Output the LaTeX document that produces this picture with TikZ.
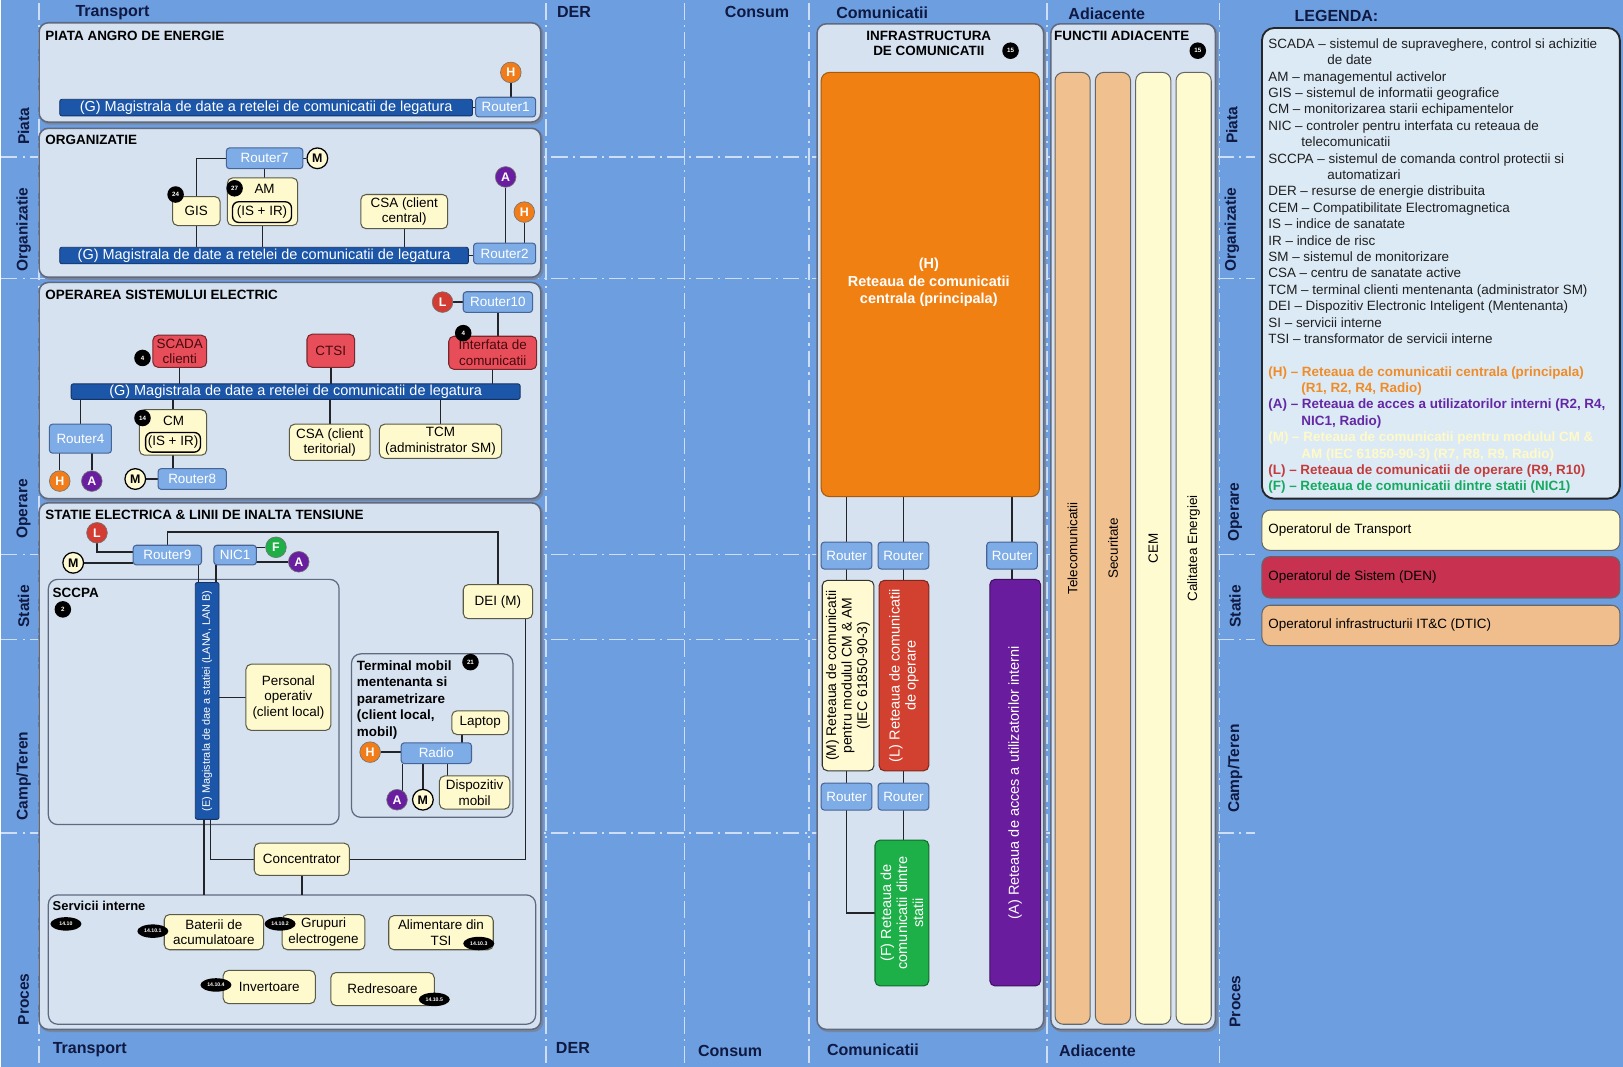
\documentclass[tikz,border=0pt]{standalone}
\usepackage{fontspec}
\setmainfont{Liberation Sans}
\usetikzlibrary{calc,shapes.geometric}
\pgfdeclarelayer{bg}\pgfdeclarelayer{panels}\pgfdeclarelayer{lines}
\pgfsetlayers{bg,panels,lines,main}
\definecolor{bgblue}{RGB}{108,158,224}
\definecolor{guidec}{RGB}{205,222,246}
\definecolor{hdrc}{RGB}{15,25,65}
\definecolor{pfill}{RGB}{214,226,240}
\definecolor{pdraw}{RGB}{95,105,128}
\definecolor{pshadow}{RGB}{120,135,160}
\definecolor{busblue}{RGB}{28,86,168}
\definecolor{busdraw}{RGB}{20,50,100}
\definecolor{rtfill}{RGB}{126,172,230}
\definecolor{rtdraw}{RGB}{70,100,150}
\definecolor{yfill}{RGB}{255,250,205}
\definecolor{ydraw}{RGB}{90,90,70}
\definecolor{redfill}{RGB}{232,78,90}
\definecolor{reddraw}{RGB}{120,40,45}
\definecolor{redtext}{RGB}{70,10,15}
\definecolor{colH}{RGB}{240,125,25}
\definecolor{colA}{RGB}{105,30,160}
\definecolor{colL}{RGB}{210,60,50}
\definecolor{colF}{RGB}{30,175,70}
\definecolor{colM}{RGB}{255,250,210}
\definecolor{orfill}{RGB}{240,128,18}
\definecolor{lfill}{RGB}{210,65,48}
\definecolor{purfill}{RGB}{105,28,158}
\definecolor{grfill}{RGB}{30,176,72}
\definecolor{peach}{RGB}{240,192,142}
\definecolor{pale}{RGB}{255,251,208}
\definecolor{legfill}{RGB}{220,234,246}
\definecolor{opred}{RGB}{200,50,80}
\definecolor{oppeach}{RGB}{240,190,140}
\definecolor{legH}{RGB}{240,140,40}
\definecolor{legA}{RGB}{100,40,165}
\definecolor{legM}{RGB}{255,250,200}
\definecolor{legL}{RGB}{195,60,60}
\definecolor{legF}{RGB}{20,170,95}
\definecolor{linec}{RGB}{35,35,42}
\newcommand\myfs[2]{\fontsize{#1}{#2}\selectfont}
\newcommand\BX[7]{\node[#2,minimum width={#5-#3},minimum height={#6-#4},inner sep=0pt,outer sep=0pt] (#1) at ({(#3+#5)/2},{(#4+#6)/2}) {#7};}
\tikzset{
 hdr/.style={font=\bfseries\myfs{15.5}{17}, text=hdrc, inner sep=0pt},
 rowl/.style={font=\bfseries\myfs{15}{17}, text=hdrc, rotate=90, inner sep=0pt},
 guide/.style={draw=guidec, line width=1.5pt, dash pattern=on 16pt off 5pt on 2pt off 5pt},
 panel/.style={draw=pdraw, fill=pfill, rounded corners=9pt, line width=1.5pt,
   preaction={draw=pshadow, line width=2pt, transform canvas={xshift=1.5pt,yshift=-1.5pt}}},
 subpanel/.style={draw=pdraw, fill=pfill, rounded corners=9pt, line width=1.2pt},
 legbox/.style={draw=black!85, fill=legfill, rounded corners=12pt, line width=1.8pt},
 ptitle/.style={font=\bfseries\myfs{13}{15}, inner sep=0pt, anchor=west, text=black},
 bus/.style={fill=busblue, draw=busdraw, line width=0.8pt, text=white, rounded corners=2pt, font=\myfs{14}{16}},
 rt/.style={fill=rtfill, draw=rtdraw, line width=1pt, text=white, rounded corners=3pt, font=\myfs{13}{15}},
 yb/.style={fill=yfill, draw=ydraw, line width=1pt, rounded corners=5pt, align=center, font=\myfs{13}{15}},
 rb/.style={fill=redfill, draw=reddraw, line width=1pt, rounded corners=5pt, align=center, font=\myfs{13}{15}, text=redtext},
 inbox/.style={fill=yfill, draw=black, line width=1.3pt, rounded corners=6pt, font=\myfs{13}{15}},
 circ/.style={circle, minimum size=20pt, inner sep=0pt, font=\bfseries\myfs{12}{12}, text=white, draw=black!55, line width=0.6pt},
 cirH/.style={circ, fill=colH},
 cirA/.style={circ, fill=colA},
 cirL/.style={circ, fill=colL},
 cirF/.style={circ, fill=colF},
 cirM/.style={circ, fill=colM, text=black, draw=black, line width=1.2pt},
 badge/.style={circle, fill=black, minimum size=16pt, inner sep=0pt, text=white, font=\bfseries\myfs{6}{6}},
 ebadge/.style={ellipse, fill=black, minimum width=30pt, minimum height=13pt, inner sep=0pt, text=white, font=\bfseries\myfs{5}{5}},
 conn/.style={draw=linec, line width=1.4pt},
 bigbox/.style={rounded corners=8pt, draw=black!60, line width=1pt},
 rtxt/.style={rotate=90, align=center, inner sep=0pt},
 opbox/.style={draw=black!60, line width=1pt, rounded corners=8pt}
}
\begin{document}
\begin{tikzpicture}[x=1pt,y=-1pt]
\begin{pgfonlayer}{bg}
\fill[bgblue] (0,0) rectangle (1568,1031);
\foreach \x in {37,527,661,781,1011,1178} \draw[guide] (\x,3) -- (\x,1029);
\foreach \y in {152,269,536,618,805} \draw[guide] (0,\y) -- (1212,\y);
\end{pgfonlayer}
\useasboundingbox (0,0) rectangle (1568,1031);

% column headers
\node[hdr] (hTt) at (108,12) {Transport};
\node[hdr] (hDt) at (554,12) {DER};
\node[hdr] (hCt) at (731,12) {Consum};
\node[hdr] (hMt) at (852,12) {Comunicatii};
\node[hdr] (hAt) at (1069,13) {Adiacente};
\node[hdr] (hLg) at (1291,15) {LEGENDA:};
\node[hdr] (hTb) at (86,1015) {Transport};
\node[hdr] (hDb) at (553,1013) {DER};
\node[hdr] (hCb) at (705,1016) {Consum};
\node[hdr] (hMb) at (843,1015) {Comunicatii};
\node[hdr] (hAb) at (1060,1016) {Adiacente};
% row labels
\node[rowl] (lr1) at (22,122) {Piata};
\node[rowl] (lr2) at (22,222) {Organizatie};
\node[rowl] (lr3) at (22,492) {Operare};
\node[rowl] (lr4) at (22,586) {Statie};
\node[rowl] (lr5) at (22,750) {Camp/Teren};
\node[rowl] (lr6) at (22,966) {Proces};
\node[rowl] (rr1) at (1190,121) {Piata};
\node[rowl] (rr2) at (1190,222) {Organizatie};
\node[rowl] (rr3) at (1193,495) {Operare};
\node[rowl] (rr4) at (1193,586) {Statie};
\node[rowl] (rr5) at (1193,743) {Camp/Teren};
\node[rowl] (rr6) at (1193,968) {Proces};

\begin{pgfonlayer}{panels}
\BX{P1}{panel}{37}{22}{522}{118}{}
\BX{P2}{panel}{37}{124}{522}{268}{}
\BX{P3}{panel}{37}{273}{522}{482}{}
\BX{P4}{panel}{37}{486}{522}{995}{}
\BX{sccpa}{subpanel}{46}{560}{327}{797}{}
\BX{term}{subpanel}{339}{632}{495}{790}{}
\BX{serv}{subpanel}{46}{865}{517}{990}{}
\BX{infra}{panel}{789}{23}{1008}{995}{}
\BX{adj}{panel}{1015}{23}{1174}{995}{}
\BX{leg}{legbox}{1219}{27}{1565}{482}{}
\end{pgfonlayer}

% ---------- Panel 1
\node[ptitle] (t1) at (43,35) {PIATA ANGRO DE ENERGIE};
\BX{bus1}{bus}{57}{96}{456}{112}{(G) Magistrala de date a retelei de comunicatii de legatura}
\BX{r1}{rt}{459}{94}{517}{113}{Router1}
\node[cirH] (h1) at (493,70) {H};

% ---------- Panel 2
\node[ptitle] (t2) at (43,135) {ORGANIZATIE};
\BX{r7}{rt}{218}{143}{292}{163}{Router7}
\node[cirM] (m7) at (306,153) {M};
\BX{gis}{yb}{166}{190}{212}{218}{GIS}
\node[badge] (b24) at (169,188) {24};
\BX{am}{yb}{219}{172}{287}{218}{}
\node[inner sep=0pt, font=\myfs{13}{15}] (amt) at (255,183) {AM};
\BX{amin}{inbox}{224}{195}{281}{215}{(IS + IR)}
\node[badge] (b27) at (226,182) {27};
\BX{csa1}{yb}{348}{188}{432}{221}{CSA (client\\central)}
\BX{bus2}{bus}{57}{239}{452}{255}{(G) Magistrala de date a retelei de comunicatii de legatura}
\BX{r2}{rt}{457}{235}{517}{255}{Router2}
\node[cirA] (a2) at (488,171) {A};
\node[cirH] (h2) at (506,205) {H};

% ---------- Panel 3
\node[ptitle] (t3) at (43,285) {OPERAREA SISTEMULUI ELECTRIC};
\BX{r10}{rt}{447}{282}{514}{302}{Router10}
\node[cirL] (l10) at (427,292) {L};
\BX{scada}{rb}{147}{324}{199}{355}{SCADA\\clienti}
\node[badge] (b4a) at (137,346) {4};
\BX{ctsi}{rb}{296}{323}{342}{355}{CTSI}
\BX{intf}{rb}{433}{325}{518}{357}{Interfata de\\comunicatii}
\node[badge] (b4b) at (447,322) {4};
\BX{bus3}{bus}{68}{371}{502}{386}{(G) Magistrala de date a retelei de comunicatii de legatura}
\BX{r4}{rt}{47}{410}{107}{438}{Router4}
\node[cirH] (h4) at (57,465) {H};
\node[cirA] (a4) at (88,465) {A};
\BX{cm}{yb}{134}{396}{199}{440}{}
\node[inner sep=0pt, font=\myfs{13}{15}] (cmt) at (167,407) {CM};
\BX{cmin}{inbox}{140}{418}{193}{437}{(IS + IR)}
\node[badge] (b14) at (137,404) {14};
\BX{r8}{rt}{152}{453}{218}{473}{Router8}
\node[cirM] (m8) at (130,463) {M};
\BX{csa2}{yb}{279}{410}{357}{445}{CSA (client\\teritorial)}
\BX{tcm}{yb}{366}{410}{484}{443}{TCM\\(administrator SM)}

% ---------- Panel 4
\node[ptitle] (t4) at (43,498) {STATIE ELECTRICA \& LINII DE INALTA TENSIUNE};
\node[cirL] (l9) at (93,515) {L};
\node[cirM] (m9) at (70,544) {M};
\BX{r9}{rt}{128}{527}{194}{546}{Router9}
\BX{nic1}{rt}{206}{527}{247}{546}{NIC1}
\node[cirF] (f9) at (266,529) {F};
\node[cirA] (a9) at (288,543) {A};
\coordinate (c514) at (0,514);
\BX{dei}{yb}{447}{565}{514}{598}{DEI (M)}
\node[ptitle] (tsc) at (50,573) {SCCPA};
\node[badge] (b2) at (60,589) {2};
\BX{ebus}{bus}{188}{563}{211}{792}{}
\node[rtxt, text=white, font=\myfs{10.5}{12}] (ebt) at (ebus.center) {(E) Magistrala de dae a statiei (LANA, LAN B)};
\BX{pers}{yb}{237}{642}{319}{706}{Personal\\operativ\\(client local)}
\node[ptitle, anchor=north west, align=left, font=\bfseries\myfs{13}{16}] (tterm) at (344,638) {Terminal mobil\\mentenanta si\\parametrizare\\(client local,\\mobil)};
\node[badge] (b21) at (454,640) {21};
\BX{lap}{yb}{436}{687}{491}{710}{Laptop}
\BX{radio}{rt}{387}{718}{455}{738}{Radio}
\node[cirH] (hT) at (357,727) {H};
\BX{disp}{yb}{424}{750}{492}{782}{Dispozitiv\\mobil}
\node[cirA] (aT) at (383,773) {A};
\node[cirM] (mT) at (408,773) {M};
\BX{conc}{yb}{245}{815}{337}{846}{Concentrator}
\node[ptitle, font=\bfseries\myfs{12.5}{14}] (tserv) at (50,876) {Servicii interne};
\node[ebadge] (e0) at (63,893) {14.10};
\BX{bat}{yb}{158}{884}{254}{918}{Baterii de\\acumulatoare}
\node[ebadge] (e1) at (147,900) {14.10.1};
\BX{grp}{yb}{272}{884}{352}{918}{Grupuri\\electrogene}
\node[ebadge] (e2) at (270,893) {14.10.2};
\BX{alim}{yb}{375}{885}{476}{918}{Alimentare din\\TSI}
\node[ebadge] (e3) at (462,912) {14.10.3};
\BX{inv}{yb}{215}{938}{304}{970}{Invertoare}
\node[ebadge] (e4) at (208,952) {14.10.4};
\BX{redr}{yb}{319}{940}{419}{972}{Redresoare}
\node[ebadge] (e5) at (419,966) {14.10.5};

% ---------- Infrastructura
\node[font=\bfseries\myfs{13}{15}, align=center, inner sep=0pt] (tinf) at (897,42) {INFRASTRUCTURA\\DE COMUNICATII};
\node[badge] (b15a) at (976,49) {15};
\BX{hbox}{bigbox, fill=orfill, draw=orfill!70!black}{793}{70}{1004}{480}{}
\node[align=center, text=white, font=\bfseries\myfs{14}{17}, inner sep=0pt] (htx) at (897,273) {(H)\\Reteaua de comunicatii\\centrala (principala)};
\BX{ri1}{rt}{793}{524}{842}{550}{Router}
\BX{ri2}{rt}{848}{524}{897}{550}{Router}
\BX{ri3}{rt}{953}{524}{1002}{550}{Router}
\BX{mbox}{bigbox, rounded corners=5pt, fill=colM, draw=black!80}{794}{561}{844}{745}{}
\node[rtxt, font=\myfs{13.5}{15}] (mtx) at (mbox.center) {(M) Reteaua de comunicatii\\pentru modulul CM \& AM\\(IEC 61850-90-3)};
\BX{lbox}{bigbox, rounded corners=5pt, fill=lfill, draw=lfill!60!black}{849}{561}{897}{745}{}
\node[rtxt, text=white, font=\myfs{14}{15.5}] (ltx) at (lbox.center) {(L) Reteaua de comunicatii\\de operare};
\BX{ri4}{rt}{793}{757}{842}{783}{Router}
\BX{ri5}{rt}{848}{757}{897}{783}{Router}
\BX{fbox}{bigbox, rounded corners=5pt, fill=grfill, draw=grfill!60!black}{845}{812}{897}{953}{}
\node[rtxt, text=white, font=\myfs{14}{15.5}] (ftx) at (fbox.center) {(F) Reteaua de\\comunicatii dintre\\statii};
\BX{abox}{bigbox, rounded corners=5pt, fill=purfill, draw=purfill!60!black}{956}{560}{1005}{953}{}
\node[rtxt, text=white, font=\myfs{14}{15.5}] (atx) at (abox.center) {(A) Reteaua de acces a utilizatorilor interni};

% ---------- Adiacente
\node[ptitle] (tadj) at (1018,35) {FUNCTII ADIACENTE};
\node[badge] (b15b) at (1157,49) {15};
\BX{tel}{bigbox, fill=peach}{1019}{70}{1053}{990}{}
\BX{sec}{bigbox, fill=peach}{1058}{70}{1092}{990}{}
\BX{cem}{bigbox, fill=pale}{1097}{70}{1131}{990}{}
\BX{cal}{bigbox, fill=pale}{1136}{70}{1170}{990}{}
\node[rtxt, font=\myfs{13}{15}] (telt) at (tel.center) {Telecomunicatii};
\node[rtxt, font=\myfs{13}{15}] (sect) at (sec.center) {Securitate};
\node[rtxt, font=\myfs{13}{15}] (cemt) at (cem.center) {CEM};
\node[rtxt, font=\myfs{13}{15}] (calt) at (cal.center) {Calitatea Energiei};

% ---------- Legend
\node[anchor=north west, align=left, inner sep=0pt, font=\myfs{13}{15.85}, text=black!88] (legt) at (1225,37) {%
SCADA – sistemul de supraveghere, control si achizitie\\
\hspace*{57pt}de date\\
AM – managementul activelor\\
GIS – sistemul de informatii geografice\\
CM – monitorizarea starii echipamentelor\\
NIC – controler pentru interfata cu reteaua de\\
\hspace*{32pt}telecomunicatii\\
SCCPA – sistemul de comanda control protectii si\\
\hspace*{57pt}automatizari\\
DER – resurse de energie distribuita\\
CEM – Compatibilitate Electromagnetica\\
IS – indice de sanatate\\
IR – indice de risc\\
SM – sistemul de monitorizare\\
CSA – centru de sanatate active\\
TCM – terminal clienti mentenanta (administrator SM)\\
DEI – Dispozitiv Electronic Inteligent (Mentenanta)\\
SI – servicii interne\\
TSI – transformator de servicii interne\\
\mbox{}\\
{\bfseries\color{legH}(H) – Reteaua de comunicatii centrala (principala)}\\
{\bfseries\color{legH}\hspace*{32pt}(R1, R2, R4, Radio)}\\
{\bfseries\color{legA}(A) – Reteaua de acces a utilizatorilor interni (R2, R4,}\\
{\bfseries\color{legA}\hspace*{32pt}NIC1, Radio)}\\
{\bfseries\color{legM}(M) – Reteaua de comunicatii pentru modulul CM \&}\\
{\bfseries\color{legM}\hspace*{32pt}AM (IEC 61850-90-3) (R7, R8, R9, Radio)}\\
{\bfseries\color{legL}(L) – Reteaua de comunicatii de operare (R9, R10)}\\
{\bfseries\color{legF}(F) – Reteaua de comunicatii dintre statii (NIC1)}};
\BX{op1}{opbox, fill=pale}{1219}{493}{1565}{532}{}
\BX{op2}{opbox, fill=opred}{1219}{538}{1565}{578}{}
\BX{op3}{opbox, fill=oppeach}{1219}{585}{1565}{624}{}
\node[anchor=west, inner sep=0pt, font=\myfs{13}{15}] (op1t) at ([xshift=6pt]op1.west) {Operatorul de Transport};
\node[anchor=west, inner sep=0pt, font=\myfs{13}{15}] (op2t) at ([xshift=6pt]op2.west) {Operatorul de Sistem (DEN)};
\node[anchor=west, inner sep=0pt, font=\myfs{13}{15}] (op3t) at ([xshift=6pt]op3.west) {Operatorul infrastructurii IT\&C (DTIC)};

% ---------- connectors
\begin{pgfonlayer}{lines}
\draw[conn] (bus1.east) -- (bus1.east -| r1.west);
\draw[conn] (h1) -- (h1 |- r1.north);
\draw[conn] (r7.west) -| (gis.north);
\draw[conn] (r7.south) -- (r7.south |- am.north);
\draw[conn] (r7.east) -- (m7);
\draw[conn] (gis.south) -- (gis.south |- bus2.north);
\draw[conn] (am.south) -- (am.south |- bus2.north);
\draw[conn] (csa1.south) -- (csa1.south |- bus2.north);
\draw[conn] (bus2.east) -- (bus2.east -| r2.west);
\draw[conn] (a2) -- (a2 |- r2.north);
\draw[conn] (h2) -- (h2 |- r2.north);
\draw[conn] (l10) -- (l10 -| r10.west);
\draw[conn] (r10.south) -- (r10.south |- intf.north);
\draw[conn] (scada.south) -- (scada.south |- bus3.north);
\draw[conn] (ctsi.south) -- (ctsi.south |- bus3.north);
\draw[conn] (intf.south) -- (intf.south |- bus3.north);
\draw[conn] (r4.north) -- (r4.north |- bus3.south);
\draw[conn] (h4) -- (h4 |- r4.south);
\draw[conn] (a4) -- (a4 |- r4.south);
\draw[conn] (cm.north) -- (cm.north |- bus3.south);
\draw[conn] (cm.south) -- (cm.south |- r8.north);
\draw[conn] (m8) -- (m8 -| r8.west);
\draw[conn] (csa2.north) -- (csa2.north |- bus3.south);
\draw[conn] (tcm.north) -- (tcm.north |- bus3.south);
\draw[conn] (l9) |- ([yshift=3pt]r9.west);
\draw[conn] (m9) -- (m9 -| r9.west);
\draw[conn] (r9.north) -- (r9.north |- c514) -- (dei.north |- c514) -- (dei.north);
\draw[conn] (f9) -- (f9 -| nic1.east);
\draw[conn] (a9) -- (a9 -| nic1.east);
\draw[conn] ([xshift=3pt]ebus.north west) -- ([xshift=3pt]ebus.north west |- r9.south);
\draw[conn] ([xshift=-3pt]ebus.north east) -- ([xshift=-3pt]ebus.north east |- nic1.south);
\draw[conn] (ebus.east |- pers.west) -- (pers.west);
\draw[conn] (hT) -- (hT -| radio.west);
\draw[conn] (aT.60) -- (aT.60 |- radio.south);
\draw[conn] (mT) -- (mT |- radio.south);
\draw[conn] ([xshift=8pt]disp.north west) -- ([xshift=8pt]disp.north west |- radio.south);
\draw[conn] ([xshift=10pt]lap.south west) -- ([xshift=10pt]lap.south west |- radio.north);
\draw[conn] ([xshift=-7pt]dei.south east) |- (conc.east);
\draw[conn] ([xshift=3pt]ebus.south) |- (conc.west);
\draw[conn] ([xshift=-3pt]ebus.south) -- ([xshift=-3pt]ebus.south |- serv.north);
\draw[conn] (conc.south) -- (conc.south |- serv.north);
\draw[conn] (ri1.north) -- (ri1.north |- hbox.south);
\draw[conn] (ri2.north) -- (ri2.north |- hbox.south);
\draw[conn] (ri3.north) -- (ri3.north |- hbox.south);
\draw[conn] (ri1.south) -- (ri1.south |- mbox.north);
\draw[conn] (ri4.north) -- (ri4.north |- mbox.south);
\draw[conn] (ri2.south) -- (ri2.south |- lbox.north);
\draw[conn] (ri5.north) -- (ri5.north |- lbox.south);
\draw[conn] (ri5.south) -- (ri5.south |- fbox.north);
\draw[conn] (ri4.south) |- (fbox.west);
\draw[conn] (ri3.south) -- (ri3.south |- abox.north);
\end{pgfonlayer}
\end{tikzpicture}
\end{document}
